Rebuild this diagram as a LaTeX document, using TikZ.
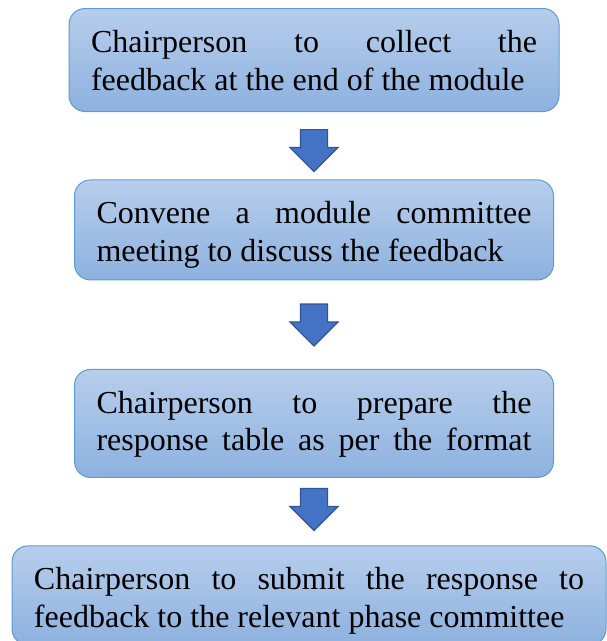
\documentclass[tikz,border=0pt]{standalone}
\usepackage{fontspec}
\setmainfont{Liberation Serif}
\usetikzlibrary{positioning,shapes.arrows}

\definecolor{boxtop}{RGB}{183,206,236}
\definecolor{boxbottom}{RGB}{141,177,223}
\definecolor{boxline}{RGB}{91,155,213}
\definecolor{arrowfill}{RGB}{68,114,196}
\definecolor{arrowline}{RGB}{47,85,151}

\tikzset{
  stepbox/.style={draw=boxline, line width=1pt, rounded corners=16pt,
    top color=boxtop, bottom color=boxbottom, align=justify,
    inner xsep=22pt, inner ysep=0pt, text height=44pt,
    font=\fontsize{32}{37.5}\selectfont},
  downarrow/.style={single arrow, draw=arrowline, fill=arrowfill,
    line width=1.2pt, rotate=-90, minimum height=42pt,
    single arrow head extend=10.5pt, inner xsep=0pt, inner ysep=13pt}
}

\begin{document}
\begin{tikzpicture}[node distance=10pt]
  \useasboundingbox (0,0) rectangle (607pt,-641pt);

  \node[stepbox, text width=446pt, text depth=59pt, anchor=north] (b1) at (314pt,-8pt)
    {Chairperson to collect the\linebreak feedback at the end of the module};
  \node[downarrow] (a1) [below=17pt of b1, anchor=west] {};
  \node[stepbox, text width=435pt, text depth=56pt] (b2) [below=7pt of a1.east]
    {Convene a module committee\linebreak meeting to discuss the feedback};
  \node[downarrow] (a2) [below=23pt of b2, anchor=west] {};
  \node[stepbox, text width=435pt, text depth=64pt] (b3) [below=22pt of a2.east]
    {Chairperson to prepare the\linebreak
     \makebox[\linewidth][s]{response table as per the format}};
  \node[downarrow] (a3) [below=10pt of b3, anchor=west] {};
  \node[stepbox, text width=550pt, text depth=55pt] (b4) [below=14pt of a3.east, xshift=-5pt]
    {Chairperson to submit the response to\linebreak feedback to the relevant phase committee};
\end{tikzpicture}
\end{document}
